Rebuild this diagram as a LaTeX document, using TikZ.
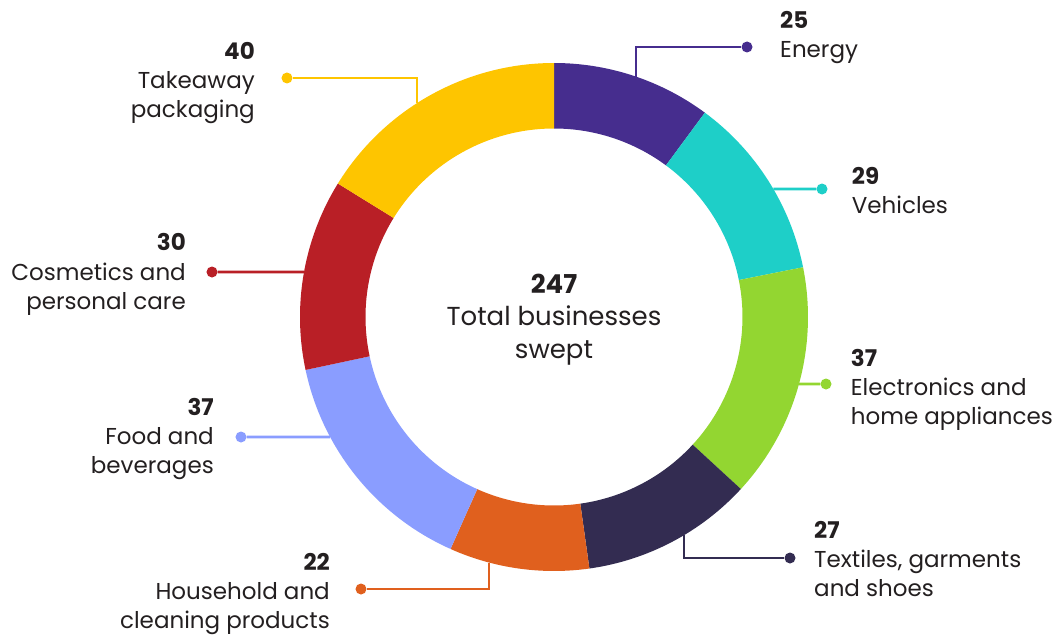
\documentclass[tikz,border=0pt]{standalone}
\usepackage{fontspec}
\setmainfont{Poppins}
\usepackage{xcolor}
\usepackage{tikz}

\definecolor{energy}{RGB}{70,45,142}
\definecolor{vehicles}{RGB}{30,207,200}
\definecolor{electronics}{RGB}{147,214,49}
\definecolor{textiles}{RGB}{51,44,81}
\definecolor{household}{RGB}{224,96,30}
\definecolor{food}{RGB}{138,157,255}
\definecolor{cosmetics}{RGB}{185,31,38}
\definecolor{takeaway}{RGB}{254,197,0}
\definecolor{txt}{RGB}{35,31,32}

\begin{document}
\begin{tikzpicture}[x=1pt, y=1pt,
    lead/.style={line width=2.6pt},
    ldot/.style={circle, fill, inner sep=0pt, minimum size=11pt},
    lbl/.style={inner sep=0pt, text=txt, font=\fontsize{23}{29.3}\selectfont}]
    \useasboundingbox (-554,-318) rectangle (503,317);

    % Leader lines (drawn first, the ring covers their ends)
    \coordinate (en-ring) at (71.2:254);
    \coordinate (ve-ring) at (30.26:254);
    \coordinate (el-ring) at (-15.29:254);
    \coordinate (te-ring) at (-59.2:254);
    \coordinate (ho-ring) at (-104.8:254);
    \coordinate (fo-ring) at (208.2:254);
    \coordinate (co-ring) at (169.8:254);
    \coordinate (ta-ring) at (122.6:254);

    \node[ldot, energy] (en-dot) at (193,270) {};
    \node[ldot, vehicles] (ve-dot) at (268,128) {};
    \node[ldot, electronics] (el-dot) at (272,-67) {};
    \node[ldot, textiles] (te-dot) at (236,-241) {};
    \node[ldot, household] (ho-dot) at (-193,-272) {};
    \node[ldot, food] (fo-dot) at (-313,-120) {};
    \node[ldot, cosmetics] (co-dot) at (-342,45) {};
    \node[ldot, takeaway] (ta-dot) at (-267,239) {};

    \draw[lead, energy] (en-ring) |- (en-dot);
    \draw[lead, vehicles] (ve-ring) -- (ve-dot);
    \draw[lead, electronics] (el-ring) -- (el-dot);
    \draw[lead, textiles] (te-ring) |- (te-dot);
    \draw[lead, household] (ho-ring) |- (ho-dot);
    \draw[lead, food] (fo-ring) -- (fo-dot);
    \draw[lead, cosmetics] (co-ring) -- (co-dot);
    \draw[lead, takeaway] (ta-ring) |- (ta-dot);

    % Ring segments, clockwise from the top
    \fill[energy] (90:254) arc[start angle=90, end angle=53.56, radius=254] -- (53.56:188.5) arc[start angle=53.56, end angle=90, radius=188.5] -- cycle;
    \fill[vehicles] (53.56:254) arc[start angle=53.56, end angle=11.30, radius=254] -- (11.30:188.5) arc[start angle=11.30, end angle=53.56, radius=188.5] -- cycle;
    \fill[electronics] (11.30:254) arc[start angle=11.30, end angle=-42.63, radius=254] -- (-42.63:188.5) arc[start angle=-42.63, end angle=11.30, radius=188.5] -- cycle;
    \fill[textiles] (-42.63:254) arc[start angle=-42.63, end angle=-81.98, radius=254] -- (-81.98:188.5) arc[start angle=-81.98, end angle=-42.63, radius=188.5] -- cycle;
    \fill[household] (-81.98:254) arc[start angle=-81.98, end angle=-114.04, radius=254] -- (-114.04:188.5) arc[start angle=-114.04, end angle=-81.98, radius=188.5] -- cycle;
    \fill[food] (-114.04:254) arc[start angle=-114.04, end angle=-167.97, radius=254] -- (-167.97:188.5) arc[start angle=-167.97, end angle=-114.04, radius=188.5] -- cycle;
    \fill[cosmetics] (-167.97:254) arc[start angle=-167.97, end angle=-211.70, radius=254] -- (-211.70:188.5) arc[start angle=-211.70, end angle=-167.97, radius=188.5] -- cycle;
    \fill[takeaway] (-211.70:254) arc[start angle=-211.70, end angle=-270, radius=254] -- (-270:188.5) arc[start angle=-270, end angle=-211.70, radius=188.5] -- cycle;

    % Centre text
    \node[inner sep=0pt, text=txt, align=center, anchor=north, font=\fontsize{26}{32.5}\selectfont] (total) at (0,43.2) {\textbf{247}\\Total businesses\\swept};

    % Labels
    \node[lbl, anchor=north west, align=left] (en-lbl) at (226,306) {\textbf{25}\\Energy};
    \node[lbl, anchor=north west, align=left] (ve-lbl) at (297.7,150.3) {\textbf{29}\\Vehicles};
    \node[lbl, anchor=north west, align=left] (el-lbl) at (296.7,-31.7) {\textbf{37}\\Electronics and\\home appliances};
    \node[lbl, anchor=north west, align=left] (te-lbl) at (260,-204) {\textbf{27}\\Textiles, garments\\and shoes};
    \node[lbl, anchor=north east, align=right] (ho-lbl) at (-224,-236) {\textbf{22}\\Household and\\cleaning products};
    \node[lbl, anchor=north east, align=right] (fo-lbl) at (-340,-80.7) {\textbf{37}\\Food and\\beverages};
    \node[lbl, anchor=north east, align=right] (co-lbl) at (-368,83.6) {\textbf{30}\\Cosmetics and\\personal care};
    \node[lbl, anchor=north east, align=right] (ta-lbl) at (-299,275) {\textbf{40}\\Takeaway\\packaging};
\end{tikzpicture}
\end{document}
